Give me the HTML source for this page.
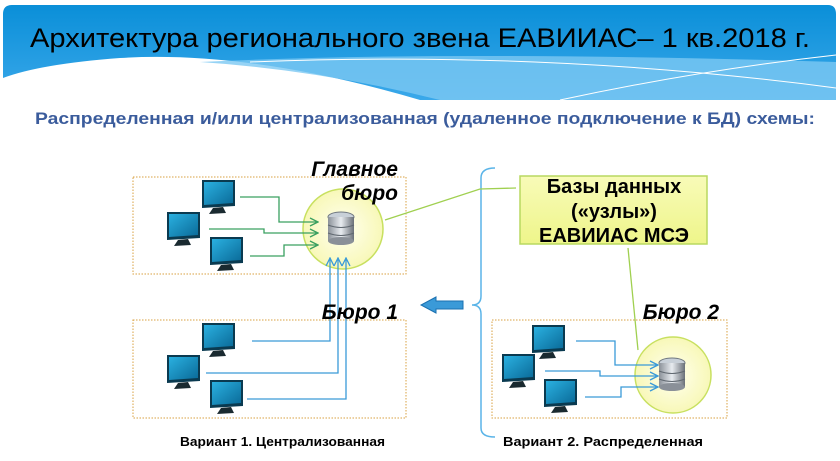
<!DOCTYPE html>
<html><head><meta charset="utf-8"><style>
html,body{margin:0;padding:0;background:#fff;}
svg{display:block;}
text{font-family:"Liberation Sans",sans-serif;}
</style></head><body>
<svg width="840" height="461" viewBox="0 0 840 461" xmlns="http://www.w3.org/2000/svg">
<defs>
<linearGradient id="hb" x1="0" y1="0" x2="0" y2="1">
<stop offset="0" stop-color="#0a8fd8"/><stop offset="1" stop-color="#3aa8ea"/></linearGradient>
<linearGradient id="scr" x1="0" y1="0" x2="1" y2="1">
<stop offset="0" stop-color="#2ab0e0"/><stop offset="1" stop-color="#0a6a98"/></linearGradient>
<linearGradient id="db" x1="0" y1="0" x2="1" y2="0">
<stop offset="0" stop-color="#8a9098"/><stop offset="0.5" stop-color="#e8ecf0"/><stop offset="1" stop-color="#6a7078"/></linearGradient>
<linearGradient id="yb" x1="0" y1="0" x2="0" y2="1">
<stop offset="0" stop-color="#f8fbb8"/><stop offset="1" stop-color="#eef58a"/></linearGradient>
<radialGradient id="yc"><stop offset="0" stop-color="#fffff0"/><stop offset="1" stop-color="#f8f8b8"/></radialGradient>
<marker id="ag" markerWidth="10" markerHeight="10" refX="9" refY="5" orient="auto" markerUnits="userSpaceOnUse"><path d="M1,1 L9,5 L1,9" fill="none" stroke="#3aa060" stroke-width="1.3"/></marker>
<marker id="ab" markerWidth="10" markerHeight="10" refX="9" refY="5" orient="auto" markerUnits="userSpaceOnUse"><path d="M1,1 L9,5 L1,9" fill="none" stroke="#3a9ad8" stroke-width="1.3"/></marker>
<g id="mon">
<path d="M3,0 L36,0 L36,26 L3,28 Z" fill="#0a3a50"/>
<path d="M5,2 L34,2 L34,23 L5,25 Z" fill="url(#scr)"/>
<path d="M14,28 L24,27 L27,33 L10,34 Z" fill="#1a2a30"/>
</g>
<g id="dbi">
<ellipse cx="14" cy="5" rx="13" ry="5" fill="#c8d0d8" stroke="#707880"/>
<rect x="1" y="5" width="26" height="24" fill="url(#db)"/>
<path d="M1,13 Q14,18 27,13 M1,21 Q14,26 27,21" fill="none" stroke="#606870"/>
<ellipse cx="14" cy="29" rx="13" ry="4" fill="#8a9098"/>
</g>
</defs>
<!-- header -->
<path d="M3,14 Q3,5 12,5 L828,5 Q836,5 836,14 L836,100 L420,100 Q250,50 120,58 Q40,64 3,78 Z" fill="url(#hb)"/>
<path d="M200,62 Q450,50 836,62 L836,100 L440,100 Q320,70 200,62Z" fill="#7cc8f2" opacity="0.8"/>
<path d="M250,62 Q550,50 836,88" fill="none" stroke="#fff" stroke-width="1"/>
<path d="M560,100 Q700,70 836,55" fill="none" stroke="#fff" stroke-width="1"/>
<text x="30" y="47" font-size="27" fill="#000" textLength="780" lengthAdjust="spacingAndGlyphs">Архитектура регионального звена ЕАВИИАС– 1 кв.2018 г.</text>
<text x="35" y="124" font-size="17" font-weight="bold" fill="#3b5c9c" textLength="780" lengthAdjust="spacingAndGlyphs">Распределенная и/или централизованная (удаленное подключение к БД) схемы:</text>
<!-- boxes -->
<rect x="133" y="177" width="273" height="97" fill="none" stroke="#d8a040" stroke-dasharray="1.5,1.5"/>
<rect x="133" y="320" width="273" height="98" fill="none" stroke="#d8a040" stroke-dasharray="1.5,1.5"/>
<rect x="492" y="320" width="235" height="98" fill="none" stroke="#d8a040" stroke-dasharray="1.5,1.5"/>
<!-- main circle -->
<circle cx="343" cy="229" r="40" fill="url(#yc)" stroke="#c8e060" stroke-width="1.5"/>
<use href="#dbi" x="327" y="212"/>
<use href="#mon" x="199" y="180"/>
<use href="#mon" x="164" y="212"/>
<use href="#mon" x="207" y="237"/>
<g fill="none" stroke="#3aa060" stroke-width="1.3">
<path d="M240,197 H279 V222 H318" marker-end="url(#ag)"/>
<path d="M209,229 H264 V233 H318" marker-end="url(#ag)"/>
<path d="M250,256 H284 V245 H318" marker-end="url(#ag)"/>
</g>
<g fill="none" stroke="#3a9ad8" stroke-width="1.3">
<path d="M252,341 H330 V258" marker-end="url(#ab)"/>
<path d="M206,373 H338 V258" marker-end="url(#ab)"/>
<path d="M247,399 H346 V258" marker-end="url(#ab)"/>
</g>
<use href="#mon" x="199" y="323"/>
<use href="#mon" x="164" y="355"/>
<use href="#mon" x="207" y="380"/>
<g font-size="21" font-weight="bold" font-style="italic" text-anchor="end">
<text x="398" y="176">Главное</text>
<text x="398" y="200">бюро</text>
<text x="398" y="319">Бюро 1</text>
<text x="719" y="319">Бюро 2</text>
</g>
<!-- bracket & arrow -->
<path d="M495,168 Q481,168 481,178 V296 Q481,305 472,305 Q481,305 481,314 V428 Q481,437 495,437" fill="none" stroke="#5ab4e8" stroke-width="1.5"/>
<path d="M463,301 H436 V297 L421,305 L436,313 V309 H463 Z" fill="#3a9ad8" stroke="#1a70b0"/>
<!-- green connectors -->
<path d="M385,220 L480,189 L516,188" fill="none" stroke="#a0d050" stroke-width="1.3"/>
<path d="M628,248 L638,350" fill="none" stroke="#a0d050" stroke-width="1.3"/>
<rect x="520" y="176" width="187" height="68" fill="url(#yb)" stroke="#b8d860" stroke-width="1.5"/>
<g font-size="20" font-weight="bold" text-anchor="middle">
<text x="614" y="193">Базы данных</text>
<text x="614" y="218">(«узлы»)</text>
<text x="614" y="242">ЕАВИИАС МСЭ</text>
</g>
<circle cx="673" cy="375" r="38" fill="url(#yc)" stroke="#c8e060" stroke-width="1.5"/>
<use href="#dbi" x="658" y="358"/>
<use href="#mon" x="529" y="325"/>
<use href="#mon" x="499" y="354"/>
<use href="#mon" x="541" y="379"/>
<g fill="none" stroke="#3a9ad8" stroke-width="1.3">
<path d="M576,341 H615 V365 H658" marker-end="url(#ab)"/>
<path d="M545,371 H600 V376 H658" marker-end="url(#ab)"/>
<path d="M585,397 H621 V387 H658" marker-end="url(#ab)"/>
</g>
<text x="180" y="446" font-size="13" font-weight="bold" textLength="205" lengthAdjust="spacingAndGlyphs">Вариант 1. Централизованная</text>
<text x="503" y="446" font-size="13" font-weight="bold" textLength="200" lengthAdjust="spacingAndGlyphs">Вариант 2. Распределенная</text>
</svg>
</body></html>
